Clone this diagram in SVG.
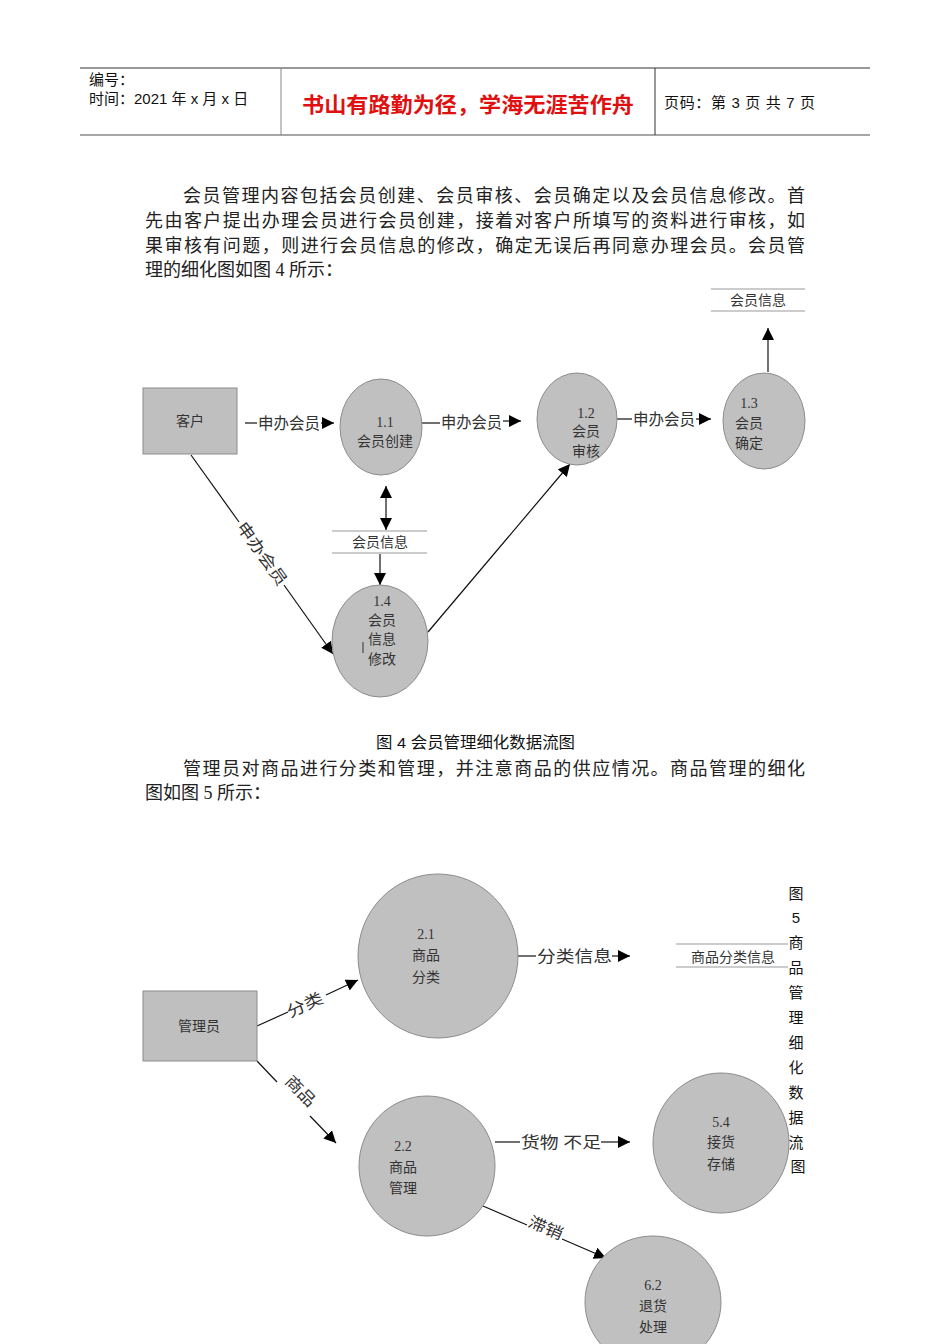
<svg xmlns="http://www.w3.org/2000/svg" width="950" height="1344" viewBox="0 0 950 1344">
<style>
.hdr{font-family:"Liberation Sans","Noto Sans CJK SC",sans-serif;fill:#111}
.body{font-family:"Liberation Serif","Noto Sans CJK SC",serif;font-size:18px;fill:#222}
.dg{font-family:"Liberation Serif","Noto Sans CJK SC",serif;fill:#333;font-size:14px;text-anchor:middle}
.lbl{font-family:"Liberation Serif","Noto Sans CJK SC",serif;fill:#333;font-size:16px}
.proc{fill:#c0c0c0;stroke:#8c8c8c;stroke-width:1}
.ent{fill:#bfbfbf;stroke:#8c8c8c;stroke-width:1}
.st{stroke:#999;stroke-width:1.2}
.ln{stroke:#111;stroke-width:1.2;fill:none}
</style>
<defs>
<marker id="ah" viewBox="0 0 10 10" refX="10" refY="5" markerWidth="12" markerHeight="12" markerUnits="userSpaceOnUse" orient="auto">
<path d="M0,0 L10,5 L0,10 z" fill="#000"/>
</marker>
<marker id="ahs" viewBox="0 0 10 10" refX="0" refY="5" markerWidth="12" markerHeight="12" markerUnits="userSpaceOnUse" orient="auto">
<path d="M10,0 L0,5 L10,10 z" fill="#000"/>
</marker>
</defs>
<rect width="950" height="1344" fill="#fff"/>

<g id="header">
<line x1="80" y1="68" x2="870" y2="68" stroke="#333" stroke-width="1"/>
<line x1="80" y1="135" x2="870" y2="135" stroke="#888" stroke-width="1.5"/>
<line x1="281" y1="68" x2="281" y2="135" stroke="#888" stroke-width="1"/>
<line x1="655" y1="68" x2="655" y2="135" stroke="#333" stroke-width="1"/>
<text class="hdr" x="89" y="85" font-size="15">编号：</text>
<text class="hdr" x="89" y="104" font-size="15">时间：2021 年 x 月 x 日</text>
<text x="302" y="112" font-size="21" font-weight="bold" fill="#e01010" textLength="332" lengthAdjust="spacingAndGlyphs" font-family="Noto Sans CJK SC,sans-serif">书山有路勤为径，学海无涯苦作舟</text>
<text class="hdr" x="664" y="108" font-size="15" textLength="151" lengthAdjust="spacing">页码：第 3 页  共 7 页</text>
</g>

<g id="para1">
<text class="body" x="183" y="202" textLength="622" lengthAdjust="spacing">会员管理内容包括会员创建、会员审核、会员确定以及会员信息修改。首</text>
<text class="body" x="145" y="227" textLength="660" lengthAdjust="spacing">先由客户提出办理会员进行会员创建，接着对客户所填写的资料进行审核，如</text>
<text class="body" x="145" y="252" textLength="660" lengthAdjust="spacing">果审核有问题，则进行会员信息的修改，确定无误后再同意办理会员。会员管</text>
<text class="body" x="145" y="276">理的细化图如图 4 所示：</text>
</g>

<g id="connectors1">
<line class="ln" x1="768" y1="372" x2="768" y2="328" marker-end="url(#ah)"/>
<line class="ln" x1="245" y1="423" x2="257" y2="423"/>
<text class="lbl" x="258" y="429" textLength="62" lengthAdjust="spacingAndGlyphs">申办会员</text>
<line class="ln" x1="321" y1="423" x2="334" y2="423" marker-end="url(#ah)"/>
<line class="ln" x1="422" y1="423" x2="440" y2="423"/>
<text class="lbl" x="441" y="428" textLength="61" lengthAdjust="spacingAndGlyphs">申办会员</text>
<line class="ln" x1="503" y1="421" x2="521" y2="421" marker-end="url(#ah)"/>
<line class="ln" x1="617" y1="419" x2="632" y2="419"/>
<text class="lbl" x="633" y="425" textLength="62" lengthAdjust="spacingAndGlyphs">申办会员</text>
<line class="ln" x1="696" y1="419" x2="711" y2="419" marker-end="url(#ah)"/>
<line class="ln" x1="386" y1="486" x2="386" y2="530" marker-start="url(#ahs)" marker-end="url(#ah)"/>
<line class="ln" x1="380" y1="554" x2="380" y2="585" marker-end="url(#ah)"/>
<line class="ln" x1="191" y1="455" x2="239" y2="522"/>
<line class="ln" x1="284" y1="585" x2="333" y2="654" marker-end="url(#ah)"/>
<text class="lbl" x="0" y="0" transform="translate(240,524) rotate(54.5)" dy="5" textLength="74" lengthAdjust="spacingAndGlyphs">申办会员</text>
<line class="ln" x1="428" y1="632" x2="570" y2="464" marker-end="url(#ah)"/>
</g>

<g id="store-top">
<line class="st" x1="711" y1="289" x2="805" y2="289"/>
<line class="st" x1="711" y1="311" x2="805" y2="311"/>
<text class="dg" x="758" y="305">会员信息</text>
</g>
<g id="customer">
<rect class="ent" x="143" y="388" width="94" height="66"/>
<text class="dg" x="190" y="426">客户</text>
</g>
<g id="p11">
<ellipse class="proc" cx="381" cy="427" rx="41" ry="48"/>
<text class="dg" x="385" y="427">1.1</text>
<text class="dg" x="385" y="446">会员创建</text>
</g>
<g id="p12">
<ellipse class="proc" cx="577" cy="419" rx="40" ry="46"/>
<text class="dg" x="586" y="418">1.2</text>
<text class="dg" x="586" y="436">会员</text>
<text class="dg" x="586" y="456">审核</text>
</g>
<g id="p13">
<ellipse class="proc" cx="764" cy="421" rx="41" ry="48"/>
<text class="dg" x="749" y="408">1.3</text>
<text class="dg" x="749" y="428">会员</text>
<text class="dg" x="749" y="448">确定</text>
</g>
<g id="store-mid">
<line class="st" x1="332" y1="531" x2="427" y2="531"/>
<line class="st" x1="332" y1="553" x2="427" y2="553"/>
<text class="dg" x="380" y="547">会员信息</text>
</g>
<g id="p14">
<ellipse class="proc" cx="380" cy="641" rx="48" ry="56"/>
<text class="dg" x="382" y="606">1.4</text>
<text class="dg" x="382" y="625">会员</text>
<text class="dg" x="382" y="644">信息</text>
<text class="dg" x="382" y="664">修改</text>
<line x1="363" y1="642" x2="363" y2="653" stroke="#333" stroke-width="1"/>
</g>

<g id="caption4">
<text x="376" y="748" font-size="15.5" fill="#111" textLength="199" lengthAdjust="spacingAndGlyphs" font-family="Liberation Sans,Noto Sans CJK SC,sans-serif">图 4 会员管理细化数据流图</text>
</g>
<g id="para2">
<text class="body" x="183" y="775" textLength="622" lengthAdjust="spacing">管理员对商品进行分类和管理，并注意商品的供应情况。商品管理的细化</text>
<text class="body" x="145" y="799">图如图 5 所示：</text>
</g>

<g id="connectors2">
<line class="ln" x1="518" y1="956" x2="536" y2="956"/>
<text class="lbl" x="537" y="962" font-size="18" textLength="75" lengthAdjust="spacingAndGlyphs">分类信息</text>
<line class="ln" x1="612" y1="956" x2="630" y2="956" marker-end="url(#ah)"/>
<line class="ln" x1="257" y1="1026" x2="288" y2="1012"/>
<text class="lbl" x="0" y="0" font-size="18" transform="translate(290,1018) rotate(-25)" textLength="38" lengthAdjust="spacingAndGlyphs">分类</text>
<line class="ln" x1="326" y1="995" x2="358" y2="980" marker-end="url(#ah)"/>
<line class="ln" x1="257" y1="1061" x2="277" y2="1082"/>
<text class="lbl" x="0" y="0" font-size="17" transform="translate(284,1082) rotate(46)" textLength="36" lengthAdjust="spacingAndGlyphs">商品</text>
<line class="ln" x1="310" y1="1116" x2="336" y2="1143" marker-end="url(#ah)"/>
<line class="ln" x1="495" y1="1142" x2="520" y2="1142"/>
<text class="lbl" x="521" y="1148" font-size="18" textLength="80" lengthAdjust="spacingAndGlyphs">货物 不足</text>
<line class="ln" x1="601" y1="1142" x2="630" y2="1142" marker-end="url(#ah)"/>
<line class="ln" x1="483" y1="1206" x2="527" y2="1225"/>
<text class="lbl" x="0" y="0" font-size="17" transform="translate(527,1226) rotate(23)" textLength="36" lengthAdjust="spacingAndGlyphs">滞销</text>
<line class="ln" x1="562" y1="1239" x2="606" y2="1258" marker-end="url(#ah)"/>
</g>

<g id="p21">
<ellipse class="proc" cx="438" cy="956" rx="80" ry="82"/>
<text class="dg" x="426" y="939" font-size="16">2.1</text>
<text class="dg" x="426" y="960" font-size="16">商品</text>
<text class="dg" x="426" y="982" font-size="16">分类</text>
</g>
<g id="store-cat">
<line class="st" x1="676" y1="944" x2="788" y2="944"/>
<line class="st" x1="676" y1="967" x2="788" y2="967"/>
<text class="dg" x="733" y="962" font-size="16">商品分类信息</text>
</g>
<g id="caption5">
<text font-size="15" text-anchor="middle" fill="#111" font-family="Liberation Sans,Noto Sans CJK SC,sans-serif">
<tspan x="798" y="899">图</tspan>
<tspan x="798" y="923">5</tspan>
<tspan x="798" y="948">商</tspan>
<tspan x="798" y="973">品</tspan>
<tspan x="798" y="998">管</tspan>
<tspan x="798" y="1023">理</tspan>
<tspan x="798" y="1048">细</tspan>
<tspan x="798" y="1073">化</tspan>
<tspan x="798" y="1098">数</tspan>
<tspan x="798" y="1123">据</tspan>
<tspan x="798" y="1148">流</tspan>
<tspan x="798" y="1172">图</tspan>
</text>
</g>
<g id="admin">
<rect class="ent" x="143" y="991" width="114" height="70"/>
<text class="dg" x="199" y="1031" font-size="16">管理员</text>
</g>
<g id="p22">
<ellipse class="proc" cx="427" cy="1166" rx="68" ry="70"/>
<text class="dg" x="403" y="1151" font-size="16">2.2</text>
<text class="dg" x="403" y="1172" font-size="16">商品</text>
<text class="dg" x="403" y="1193" font-size="16">管理</text>
</g>
<g id="p54">
<ellipse class="proc" cx="721" cy="1143" rx="68" ry="70"/>
<text class="dg" x="721" y="1127" font-size="16">5.4</text>
<text class="dg" x="721" y="1147" font-size="16">接货</text>
<text class="dg" x="721" y="1169" font-size="16">存储</text>
</g>
<g id="p62">
<ellipse class="proc" cx="653" cy="1302" rx="68" ry="66"/>
<text class="dg" x="653" y="1290" font-size="16">6.2</text>
<text class="dg" x="653" y="1311" font-size="16">退货</text>
<text class="dg" x="653" y="1332" font-size="16">处理</text>
</g>
</svg>
